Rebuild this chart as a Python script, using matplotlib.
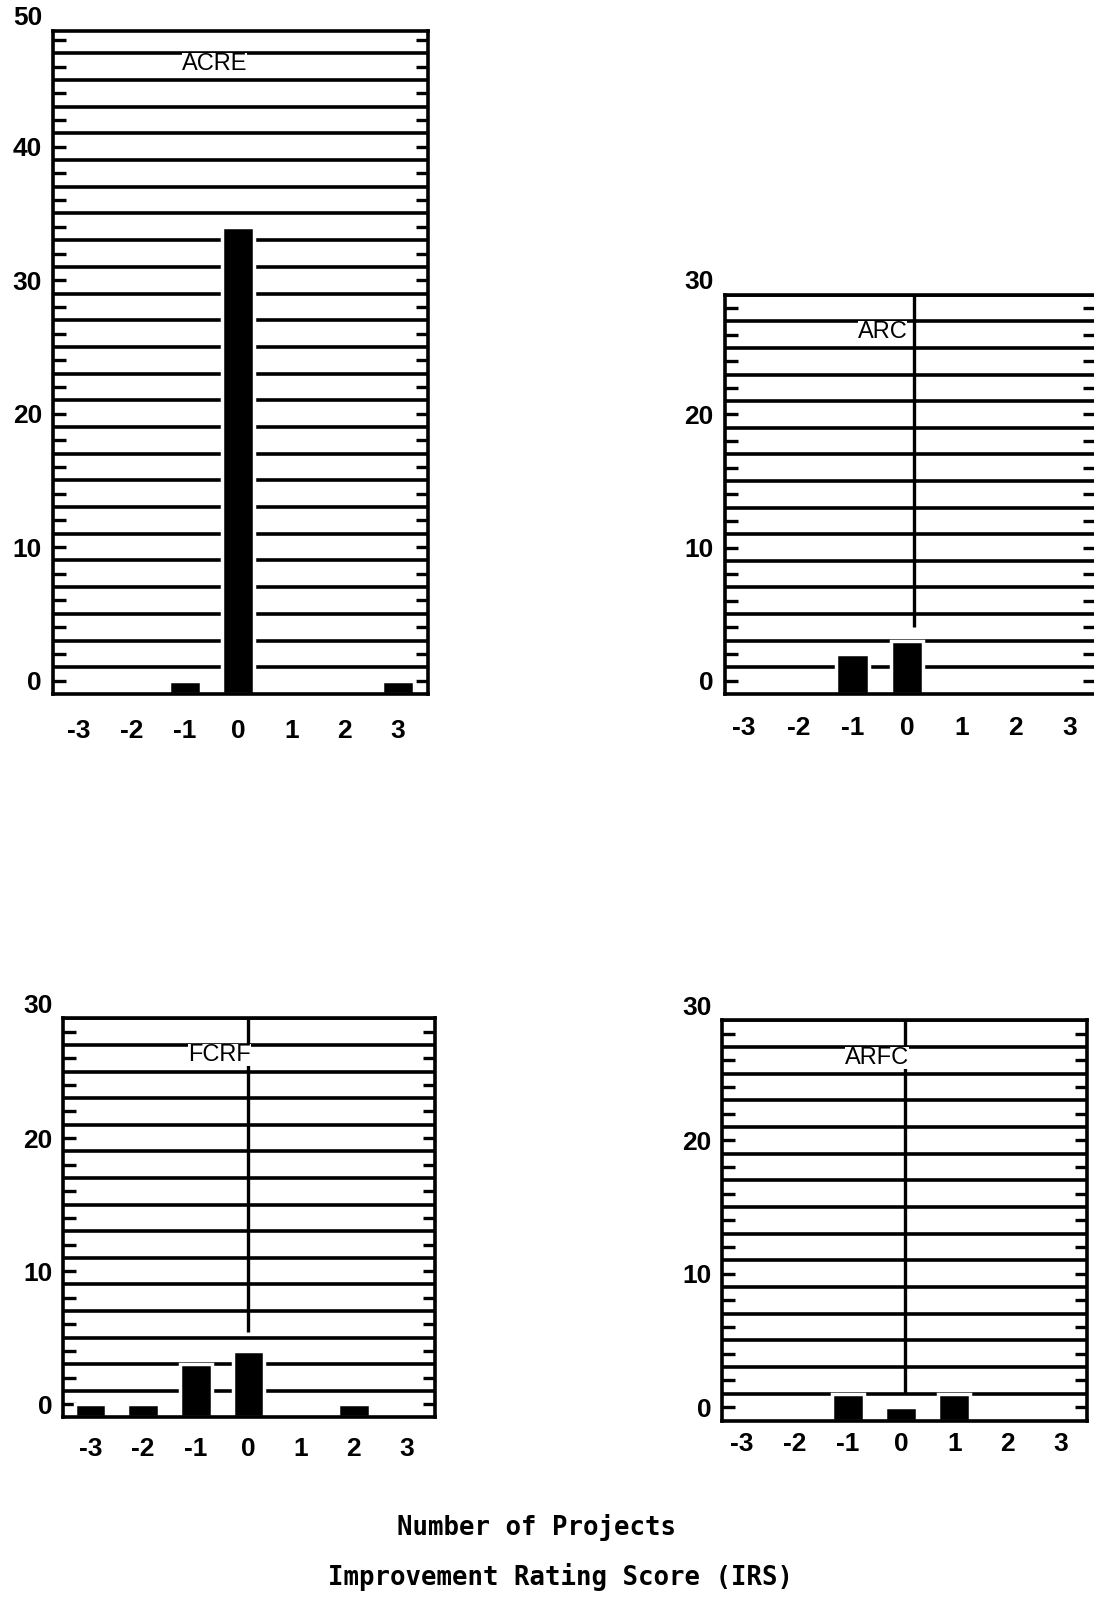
import matplotlib
matplotlib.use("Agg")
from matplotlib import pyplot as plt

plt.rcParams['axes.unicode_minus'] = False
plt.rcParams['font.family'] = ['Liberation Sans', 'DejaVu Sans']

# improvement rating score (x categories)
irs = [-3, -2, -1, 0, 1, 2, 3]
irs_labels = ["-3", "-2", "-1", "0", "1", "2", "3"]

# number of projects for each score
acre_counts = [0, 0, 1, 35, 0, 0, 1]
arc_counts = [0, 0, 3, 4, 0, 0, 0]
fcrf_counts = [1, 1, 4, 5, 0, 1, 0]
arfc_counts = [0, 0, 2, 1, 2, 0, 0]

panel_names = ["ACRE", "ARC", "FCRF", "ARFC"]
big_ylabels = [0, 10, 20, 30, 40, 50]
small_ylabels = [0, 10, 20, 30]

# layout of the four panels  [left, bottom, width, height]
boxes = [[0.0486, 0.5674, 0.3424, 0.4135],
         [0.6623, 0.5674, 0.3390, 0.2489],
         [0.0580, 0.1163, 0.3396, 0.2488],
         [0.6604, 0.1144, 0.3331, 0.2495]]
ytops = [48.7, 29, 29, 29]
xlims = [(-3.48, 3.56), (-3.36, 3.47), (-3.51, 3.54), (-3.36, 3.49)]
name_xy = [(-0.45, 45.35), (-0.45, 25.35), (-0.55, 25.4), (-0.46, 25.35)]
xpads = [18, 16, 14, 8]
# vertical rule in the graph paper (x, lower end), None if absent
dividers = [None, (0.13, 4), (0.0, 5.4), (0.08, 1)]

base = -1   # bars stand on the bottom frame line

fig = plt.figure(figsize=(10.94, 16.04), dpi=100)

all_counts = [acre_counts, arc_counts, fcrf_counts, arfc_counts]
for i in range(4):
    ax = fig.add_axes(boxes[i])
    counts = all_counts[i]
    ylabels = big_ylabels if i == 0 else small_ylabels
    ytop = ytops[i]

    xs = [x for x, c in zip(irs, counts) if c > 0]
    hs = [c for c in counts if c > 0]
    ax.bar(xs, hs, width=0.6, bottom=base, color='black',
           edgecolor='white', linewidth=2.5, zorder=1)

    ax.set_xlim(*xlims[i])
    ax.set_ylim(base, ytop)
    ax.set_axisbelow(True)

    # horizontal rules of the graph paper on odd values
    ax.set_yticks(list(range(1, int(ytop) + 1, 2)), minor=True)
    ax.yaxis.grid(True, which='minor', color='black', linewidth=2.6)
    ax.tick_params(axis='y', which='minor', length=0)

    major = list(range(0, int(ytop) + 1, 2))
    ax.set_yticks(major)
    ax.set_yticklabels([str(v) if v % 10 == 0 else "" for v in major])
    ax.tick_params(axis='y', which='major', direction='in', left=True, right=True,
                   length=9, width=2.4, pad=8, labelsize=19)
    # the topmost label sits just above the frame
    ax.annotate(str(ylabels[-1]), xy=(0, 1), xycoords='axes fraction',
                xytext=(-8, 9), textcoords='offset points',
                ha='right', va='center', fontsize=19, fontweight='bold')

    ax.set_xticks(irs)
    ax.set_xticklabels(irs_labels, fontweight='bold')
    ax.tick_params(axis='x', length=0, pad=xpads[i], labelsize=19)
    for lab in ax.get_yticklabels():
        lab.set_fontweight('bold')

    for s in ax.spines.values():
        s.set_linewidth(2.6)
        s.set_color('black')

    if dividers[i] is not None:
        dx, dlow = dividers[i]
        ax.vlines(dx, dlow, ytop, color='black', linewidth=2.4, zorder=2)

    ax.text(name_xy[i][0], name_xy[i][1], panel_names[i], ha='center', va='bottom',
            fontsize=17, zorder=3,
            bbox=dict(facecolor='white', edgecolor='none', pad=0.0))

fig.text(0.490, 0.048, "Number of Projects", family='DejaVu Sans Mono',
         fontsize=18.5, fontweight='bold', ha='center', va='center')
fig.text(0.512, 0.0168, "Improvement Rating Score (IRS)", family='DejaVu Sans Mono',
         fontsize=18.5, fontweight='bold', ha='center', va='center')

fig.savefig('out.png', dpi=100)
